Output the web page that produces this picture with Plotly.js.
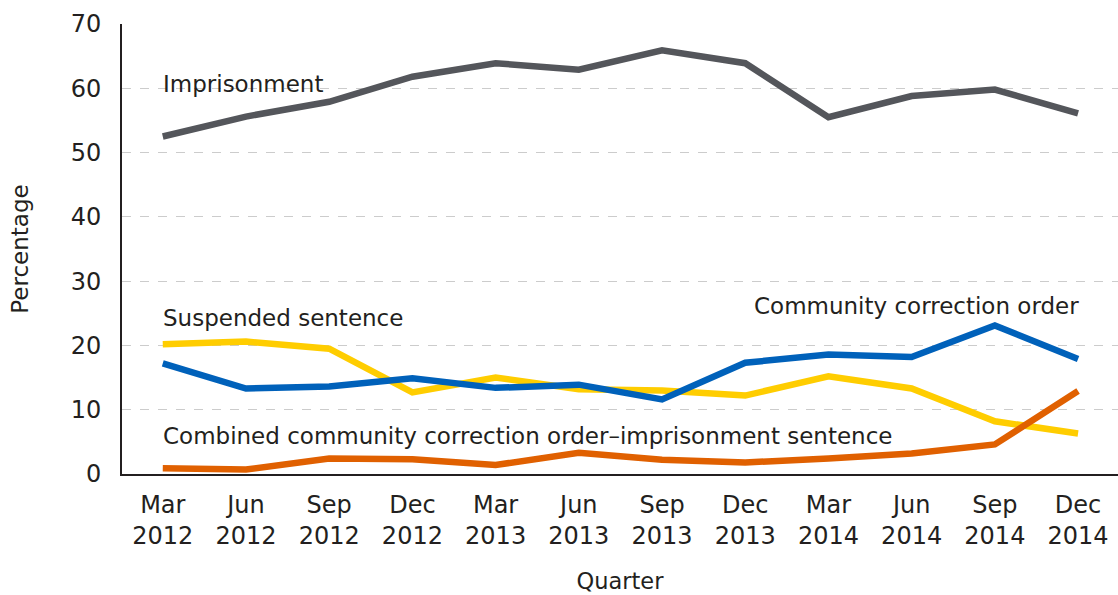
<!DOCTYPE html>
<html>
<head>
<meta charset="utf-8">
<script src="https://cdn.plot.ly/plotly-3.0.1.min.js"></script>
<style>html,body{margin:0;padding:0;background:#fff;}#chart{width:1118px;height:595px;}</style>
</head>
<body>
<div id="chart"></div>
<script>
const quarters = ['Mar<br>2012','Jun<br>2012','Sep<br>2012','Dec<br>2012','Mar<br>2013','Jun<br>2013','Sep<br>2013','Dec<br>2013','Mar<br>2014','Jun<br>2014','Sep<br>2014','Dec<br>2014'];
const imprisonment = [52.5, 55.6, 57.9, 61.8, 63.9, 62.9, 65.9, 63.9, 55.5, 58.8, 59.8, 56.1];
const suspended = [20.2, 20.6, 19.5, 12.7, 15.0, 13.2, 13.0, 12.2, 15.2, 13.3, 8.2, 6.3];
const cco = [17.2, 13.3, 13.6, 14.9, 13.4, 13.9, 11.6, 17.3, 18.6, 18.2, 23.1, 17.9];
const combined = [0.9, 0.7, 2.4, 2.3, 1.4, 3.3, 2.2, 1.8, 2.4, 3.2, 4.6, 12.9];
const seriesNames = ['Imprisonment','Suspended sentence','Community correction order','Combined community correction order–imprisonment sentence'];
const colors = ['#54565B','#FFCD00','#0061BA','#E06000'];
const allSeries = [imprisonment, suspended, cco, combined];

const traces = allSeries.map((s, i) => ({
  x: quarters, y: s, type: 'scatter', mode: 'lines', name: seriesNames[i],
  line: {color: colors[i], width: 6.5}, cliponaxis: false
}));

const font = 'DejaVu Sans, sans-serif';
const annFont = {family: font, size: 23, color: '#231F20'};
const layout = {
  width: 1118, height: 595,
  margin: {l: 122, r: 0, t: 24, b: 121},
  paper_bgcolor: '#fff', plot_bgcolor: '#fff',
  showlegend: false,
  font: {family: font, size: 24, color: '#231F20'},
  xaxis: {
    type: 'category', range: [-0.49, 11.48],
    showgrid: false, showline: true, linecolor: '#231F20', linewidth: 2,
    ticks: '', ticklabelstandoff: 8, tickfont: {family: font, size: 24, color: '#231F20'},
    title: {text: 'Quarter', font: {family: font, size: 22.5, color: '#231F20'}, standoff: 24},
    zeroline: false
  },
  yaxis: {
    range: [0, 70], dtick: 10, tick0: 0,
    showgrid: true, gridcolor: '#CCCCCC', griddash: 'dash', gridwidth: 1,
    showline: true, linecolor: '#231F20', linewidth: 2,
    ticks: '', ticklabelstandoff: 14, tickfont: {family: font, size: 24, color: '#231F20'},
    title: {text: 'Percentage', font: {family: font, size: 23, color: '#231F20'}, standoff: 36},
    zeroline: false
  },
  annotations: [
    {x: 0, y: 60.7, xref: 'x', yref: 'y', text: seriesNames[0], showarrow: false, xanchor: 'left', yanchor: 'middle', xshift: -2, font: annFont},
    {x: 0, y: 24.3, xref: 'x', yref: 'y', text: seriesNames[1], showarrow: false, xanchor: 'left', yanchor: 'middle', xshift: -2, font: annFont},
    {x: 11, y: 26.2, xref: 'x', yref: 'y', text: seriesNames[2], showarrow: false, xanchor: 'right', yanchor: 'middle', xshift: 3, font: annFont},
    {x: 0, y: 5.85, xref: 'x', yref: 'y', text: seriesNames[3], showarrow: false, xanchor: 'left', yanchor: 'middle', xshift: -2, font: annFont}
  ]
};
Plotly.newPlot('chart', traces, layout, {displayModeBar: false, staticPlot: true});
</script>
</body>
</html>
